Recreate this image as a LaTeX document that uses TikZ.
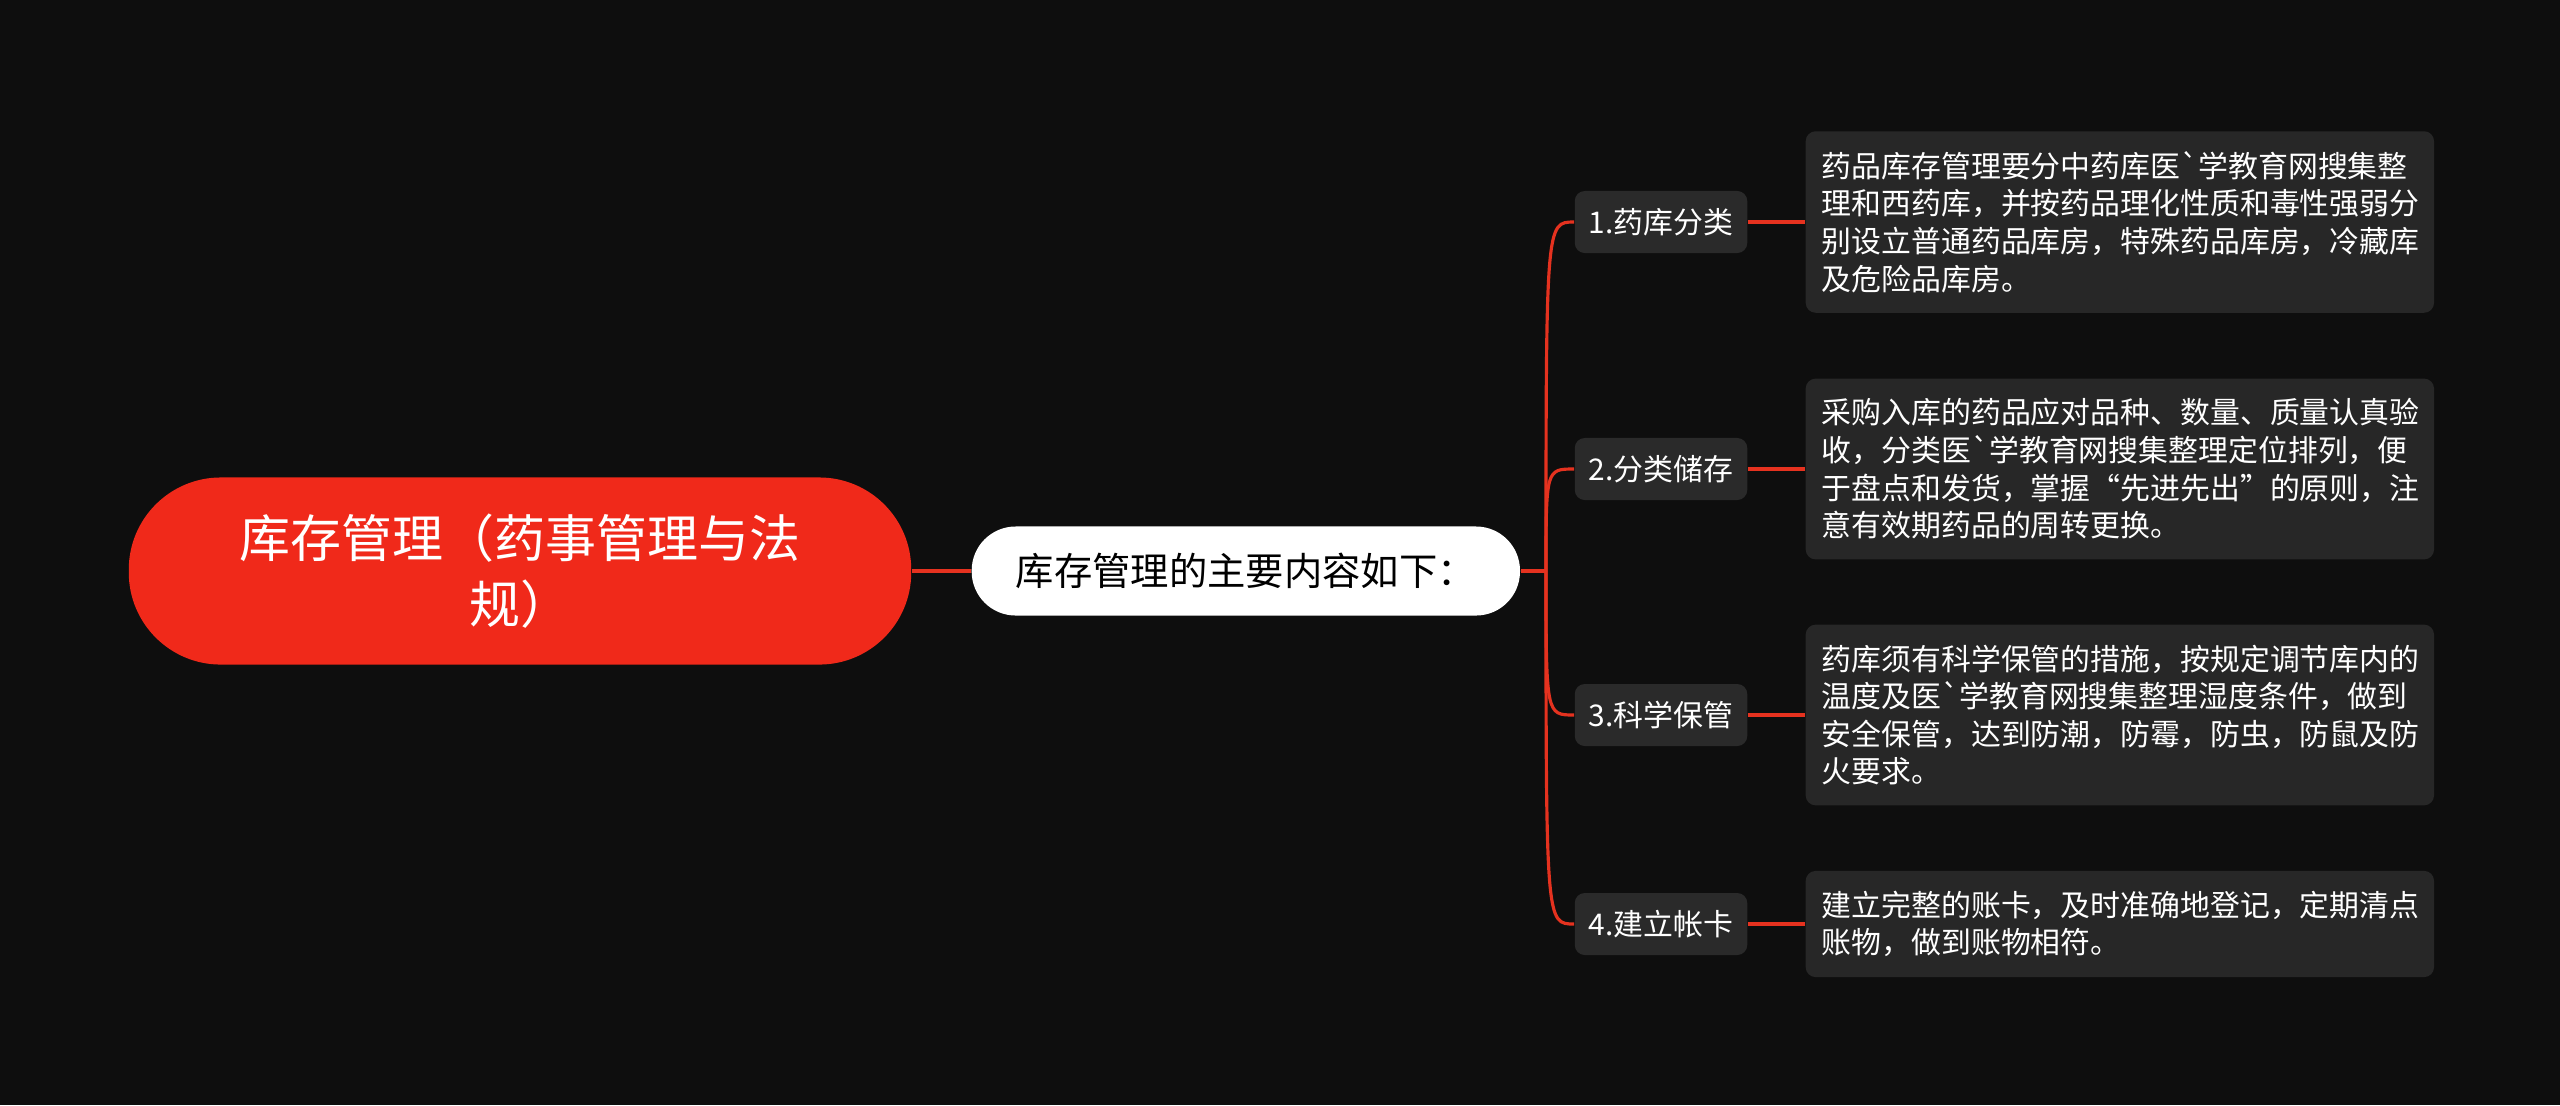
\documentclass[tikz,border=0pt]{standalone}
\usepackage{fontspec}
\newfontfamily\cjk{Noto Sans CJK SC}
\usetikzlibrary{positioning}
\definecolor{bgdark}{HTML}{0E0E0E}
\definecolor{rootred}{HTML}{F0291A}
\definecolor{linkred}{HTML}{E5321F}
\definecolor{boxgray}{HTML}{2A2A2A}
\definecolor{leafgray}{HTML}{272727}
\newcommand{\bq}{\symbol{96}}

\begin{document}
\begin{tikzpicture}[x=0.01cm,y=-0.01cm,
  rootnode/.style={fill=rootred,rounded corners=0.92cm,minimum width=7.82cm,minimum height=1.87cm,text width=6.4cm,align=center,text=white,font=\cjk\fontsize{14.5}{18.6}\selectfont},
  mainnode/.style={fill=white,rounded corners=0.44cm,minimum width=5.48cm,minimum height=0.89cm,text=black,font=\cjk\fontsize{10.9}{13}\selectfont},
  topicnode/.style={fill=boxgray,rounded corners=0.1cm,inner xsep=0.14cm,minimum height=0.62cm,text=white,font=\cjk\fontsize{8.5}{10.7}\selectfont},
  leafnode/.style={fill=leafgray,rounded corners=0.1cm,inner xsep=0.16cm,inner ysep=0.2cm,text width=5.96cm,align=left,text=white,font=\cjk\fontsize{8.5}{10.7}\selectfont},
  link/.style={draw=linkred,line width=1.1pt},
  branch/.style={draw=linkred,line width=0.9pt}]
% background and page size
\fill[bgdark] (0,0) rectangle (2560,1105);
\useasboundingbox (0,0) rectangle (2560,1105);
% root and summary
\node[rootnode] (root) at (520,571) {库存管理（药事管理与法\\规）};
\node[mainnode,right=0.59cm of root] (main) {库存管理的主要内容如下：};
\coordinate (trunk) at (1546,571);
% four topics
\node[topicnode] (store) at (1661,222) {1.药库分类};
\node[topicnode] (sort) at (1661,469) {2.分类储存};
\node[topicnode] (keep) at (1661,715) {3.科学保管};
\node[topicnode] (card) at (1661,924) {4.建立帐卡};
% details
\node[leafnode,right=0.57cm of store] (storetxt) {药品库存管理要分中药库医\bq 学教育网搜集整\\理和西药库，并按药品理化性质和毒性强弱分\\别设立普通药品库房，特殊药品库房，冷藏库\\及危险品库房。};
\node[leafnode,right=0.57cm of sort] (sorttxt) {采购入库的药品应对品种、数量、质量认真验\\收，分类医\bq 学教育网搜集整理定位排列，便\\于盘点和发货，掌握“先进先出”的原则，注\\意有效期药品的周转更换。};
\node[leafnode,right=0.57cm of keep] (keeptxt) {药库须有科学保管的措施，按规定调节库内的\\温度及医\bq 学教育网搜集整理湿度条件，做到\\安全保管，达到防潮，防霉，防虫，防鼠及防\\火要求。};
\node[leafnode,right=0.57cm of card] (cardtxt) {建立完整的账卡，及时准确地登记，定期清点\\账物，做到账物相符。};
% connectors
\draw[link] (root) -- (main);
\draw[link] (main) -- (trunk);
\draw[branch] (trunk) .. controls (trunk |- store.west) .. (store.west);
\draw[branch] (trunk) .. controls (trunk |- sort.west) .. (sort.west);
\draw[branch] (trunk) .. controls (trunk |- keep.west) .. (keep.west);
\draw[branch] (trunk) .. controls (trunk |- card.west) .. (card.west);
\draw[link] (store) -- (storetxt);
\draw[link] (sort) -- (sorttxt);
\draw[link] (keep) -- (keeptxt);
\draw[link] (card) -- (cardtxt);
\end{tikzpicture}
\end{document}
